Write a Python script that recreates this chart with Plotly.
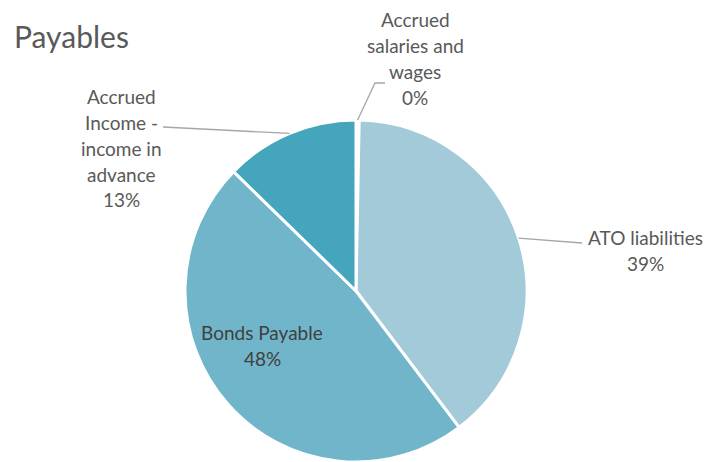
import math
import plotly.graph_objects as go

# Slice data, clockwise from 12 o'clock
categories = ["Accrued salaries and wages", "ATO liabilities", "Bonds Payable",
              "Accrued Income - income in advance"]
values = [0.3, 39.4, 47.6, 12.7]
colors = ["#5b9bd5", "#a2cad9", "#71b5cb", "#45a5bd"]

# Wrapped label lines as shown next to each slice
label_lines = [
    ["Accrued", "salaries and", "wages"],
    ["ATO liabilities"],
    ["Bonds Payable"],
    ["Accrued", "Income -", "income in", "advance"],
]

W, H = 721, 462
CX, CY, R = 356, 291, 171          # pie centre / radius in pixels
FONT = "Lato"
LABEL_SIZE = 19
TEXT_GREY = "#595959"
LINE_GREY = "#a6a6a6"

# label block placement: (centre x, first line y, line pitch, text colour)
label_pos = [
    (415, 20, 25.7, TEXT_GREY),
    (645, 237, 26, TEXT_GREY),
    (262, 332, 26, "#404040"),
    (121, 97, 25.7, TEXT_GREY),
]
# leader line routes (bend points after the slice edge), None = no leader
leader_route = [
    [(375, 83), (385, 83)],
    [(582, 243)],
    None,
    [(163, 127)],
]


def paper(x, y):
    return x / W, 1 - y / H


total = sum(values)
pcts = [round(v / total * 100) for v in values]

fig = go.Figure(go.Pie(
    labels=categories,
    values=values,
    sort=False,
    direction="clockwise",
    rotation=0,
    marker=dict(colors=colors, line=dict(color="white", width=3)),
    textinfo="none",
    hoverinfo="label+percent",
    showlegend=False,
    domain=dict(x=[(CX - R) / W, (CX + R) / W],
                y=[max(0, 1 - (CY + R) / H), 1 - (CY - R) / H]),
))

annotations = []
shapes = []
start = 0.0
for i, v in enumerate(values):
    frac = v / total
    mid = (start + frac / 2) * 360.0
    start += frac
    cx, y0, pitch, col = label_pos[i]
    lines = label_lines[i] + [f"{pcts[i]}%"]
    for k, ln in enumerate(lines):
        ax, ay = paper(cx, y0 + k * pitch)
        annotations.append(dict(
            x=ax, y=ay, xref="paper", yref="paper", text=ln, showarrow=False,
            xanchor="center", yanchor="middle",
            font=dict(family=FONT, size=LABEL_SIZE, color=col)))
    route = leader_route[i]
    if route:
        ex = CX + R * math.sin(math.radians(mid))
        ey = CY - R * math.cos(math.radians(mid))
        pts = [(ex, ey)] + route
        path = "M " + " L ".join(f"{paper(px, py)[0]},{paper(px, py)[1]}" for px, py in pts)
        shapes.append(dict(type="path", path=path, xref="paper", yref="paper",
                           line=dict(color=LINE_GREY, width=1.3)))

tx, ty = paper(12, 36)
annotations.append(dict(
    x=tx, y=ty, xref="paper", yref="paper", text="Payables", showarrow=False,
    xanchor="left", yanchor="middle",
    font=dict(family=FONT, size=30, color=TEXT_GREY)))

fig.update_layout(
    width=W, height=H,
    margin=dict(l=0, r=0, t=0, b=0),
    paper_bgcolor="white",
    plot_bgcolor="white",
    annotations=annotations,
    shapes=shapes,
)

fig.write_html("out.html")
